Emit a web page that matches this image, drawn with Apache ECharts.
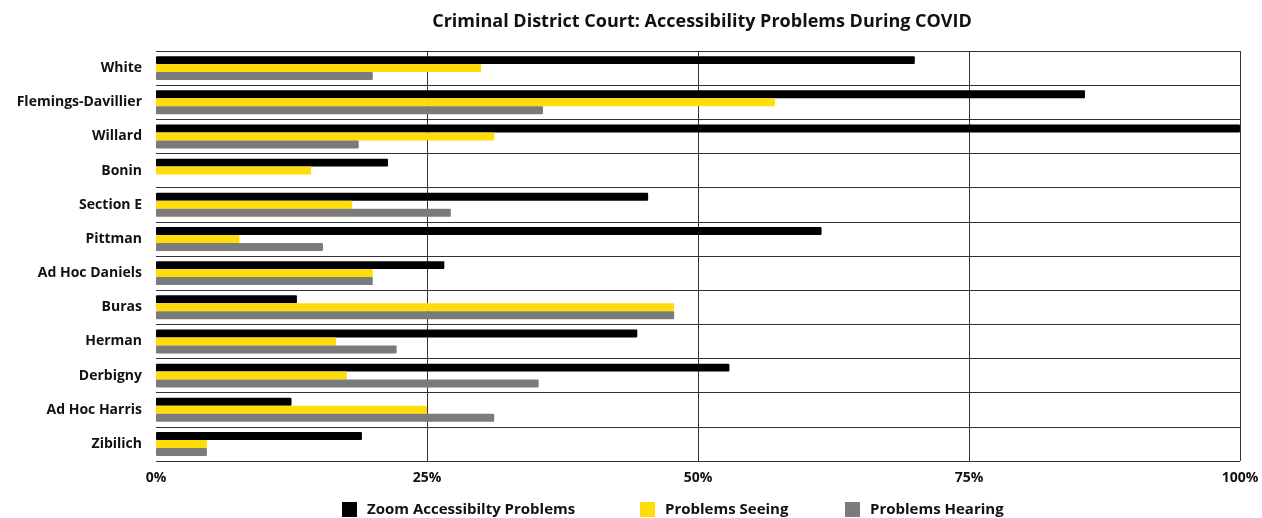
<!DOCTYPE html>
<html>
<head>
<meta charset="utf-8">
<script src="https://cdn.jsdelivr.net/npm/echarts@6/dist/echarts.min.js"></script>
<style>
  html, body { margin: 0; padding: 0; background: #fff; }
  #chart { width: 1262px; height: 518px; }
</style>
</head>
<body>
<div id="chart"></div>
<script>
// courts, top to bottom
var courts = ['White', 'Flemings-Davillier', 'Willard', 'Bonin', 'Section E', 'Pittman',
  'Ad Hoc Daniels', 'Buras', 'Herman', 'Derbigny', 'Ad Hoc Harris', 'Zibilich'];

// percent of respondents
var zoomProblems = [70, 85.7, 100, 21.4, 45.4, 61.4, 26.6, 13, 44.4, 52.9, 12.5, 19];
var seeingProblems = [30, 57.1, 31.2, 14.3, 18.1, 7.7, 20, 47.8, 16.6, 17.6, 25, 4.7];
var hearingProblems = [20, 35.7, 18.7, 0, 27.2, 15.4, 20, 47.8, 22.2, 35.3, 31.2, 4.7];

var seriesNames = ['Zoom Accessibilty Problems', 'Problems Seeing', 'Problems Hearing'];

var font = 'Open Sans';
var legendText = { fontFamily: font, fontSize: 15, fontWeight: 'bold', color: '#111', padding: [0, 0, 0, 5] };

function legendAt(name, x) {
  return {
    left: x,
    top: 497,
    itemWidth: 15,
    itemHeight: 15,
    icon: 'rect',
    textStyle: legendText,
    data: [name]
  };
}

var chart = echarts.init(document.getElementById('chart'));
var option = {
  backgroundColor: '#fff',
  textStyle: { fontFamily: font },
  title: {
    text: 'Criminal District Court: Accessibility Problems During COVID',
    left: 697,
    textAlign: 'center',
    top: 8,
    textStyle: { fontFamily: font, fontSize: 18, fontWeight: 'bold', color: '#111' }
  },
  legend: [
    legendAt(seriesNames[0], 337),
    legendAt(seriesNames[1], 635),
    legendAt(seriesNames[2], 840)
  ],
  grid: { left: 156, right: 22, top: 51, bottom: 57 },
  xAxis: {
    type: 'value',
    min: 0,
    max: 100,
    interval: 25,
    axisLine: { show: false },
    axisTick: { show: false },
    axisLabel: {
      formatter: '{value}%',
      fontFamily: font, fontSize: 14, fontWeight: 'bold', color: '#111', margin: 10
    },
    splitLine: { show: true, showMinLine: false, lineStyle: { color: '#333', width: 1 } }
  },
  yAxis: {
    type: 'category',
    inverse: true,
    data: courts,
    axisLine: { show: false },
    axisTick: { show: false },
    axisLabel: { fontFamily: font, fontSize: 14, fontWeight: 'bold', color: '#111', margin: 14 },
    splitLine: { show: true, lineStyle: { color: '#333', width: 1 } }
  },
  series: [
    {
      name: seriesNames[0],
      type: 'bar',
      data: zoomProblems,
      barGap: '0%',
      barCategoryGap: '30%',
      itemStyle: { color: '#000', borderRadius: 1 }
    },
    {
      name: seriesNames[1],
      type: 'bar',
      data: seeingProblems,
      itemStyle: { color: '#FFDD0B', borderRadius: 1 }
    },
    {
      name: seriesNames[2],
      type: 'bar',
      data: hearingProblems,
      itemStyle: { color: '#7b7b7b', borderRadius: 1 }
    }
  ]
};
chart.setOption(option);
</script>
</body>
</html>
